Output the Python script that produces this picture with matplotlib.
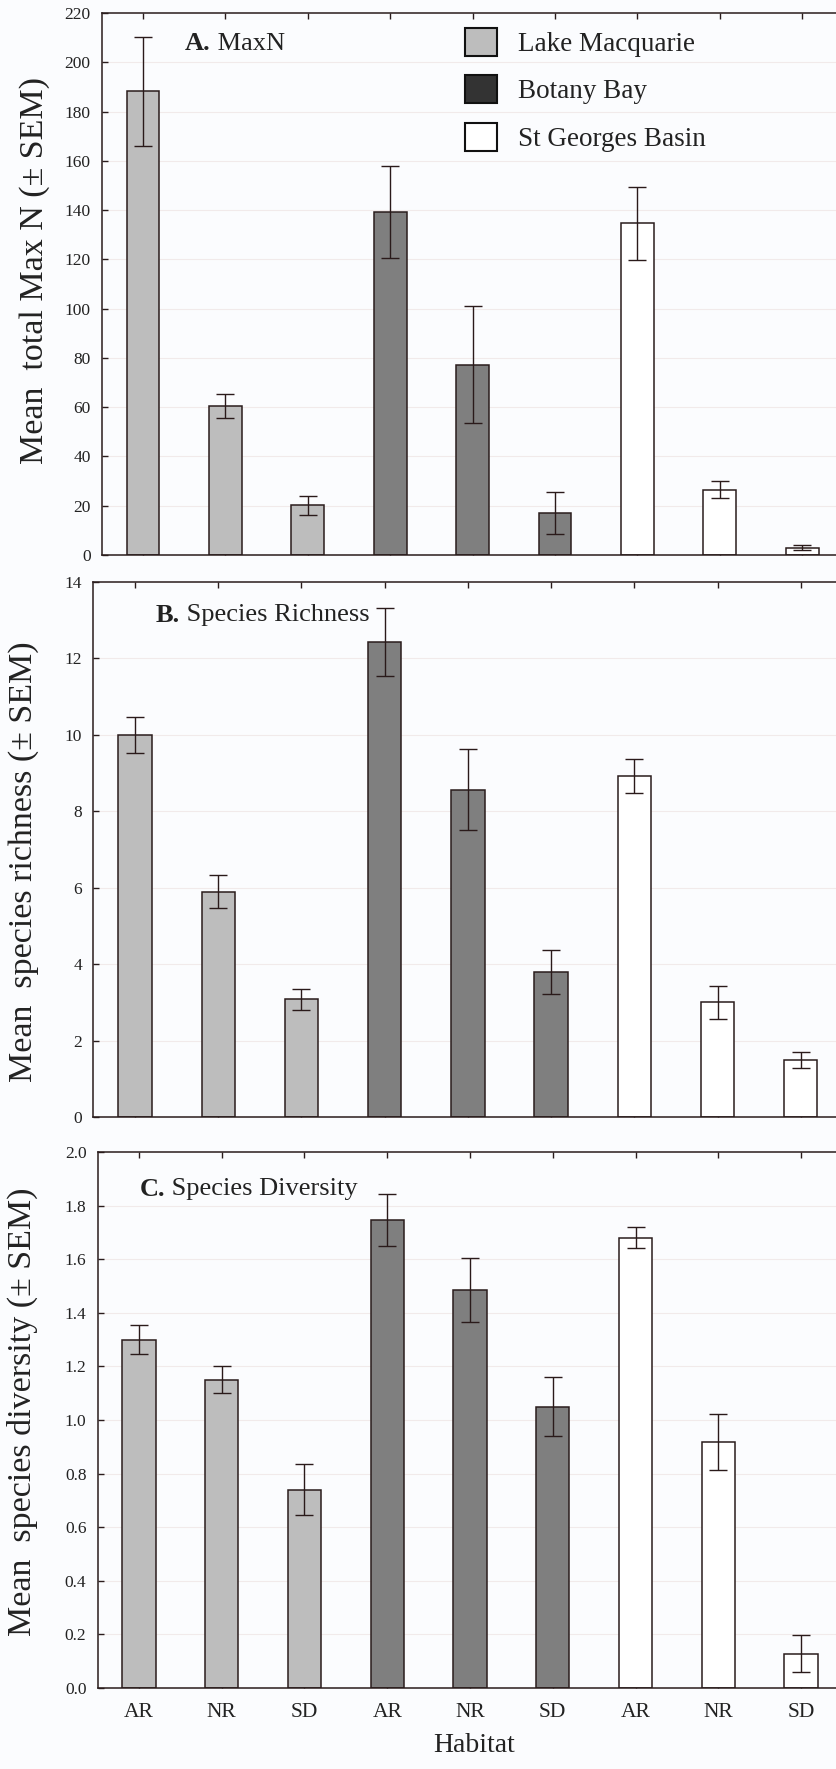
import matplotlib
matplotlib.use('Agg')
import matplotlib.pyplot as plt
from matplotlib.patches import Patch
import numpy as np

# habitat x estuary layout: 3 estuaries x 3 habitats
estuaries = ['Lake Macquarie', 'Botany Bay', 'St Georges Basin']
habitats = ['AR', 'NR', 'SD']

# A. MaxN (mean, SEM) per bar, in order LM AR/NR/SD, BB AR/NR/SD, SG AR/NR/SD
maxn_mean = [188.2, 60.5, 20.2, 139.2, 77.3, 17.0, 134.6, 26.5, 3.0]
maxn_sem = [22.2, 4.7, 3.8, 18.8, 23.7, 8.5, 14.7, 3.4, 0.9]

# B. Species richness
rich_mean = [10.0, 5.9, 3.08, 12.43, 8.57, 3.8, 8.92, 3.0, 1.5]
rich_sem = [0.48, 0.42, 0.28, 0.89, 1.05, 0.58, 0.44, 0.44, 0.21]

# C. Species diversity
div_mean = [1.30, 1.15, 0.74, 1.745, 1.485, 1.05, 1.68, 0.918, 0.128]
div_sem = [0.053, 0.05, 0.095, 0.097, 0.12, 0.11, 0.04, 0.104, 0.07]

bar_colors = ['#bdbdbd'] * 3 + ['#7f7f7f'] * 3 + ['white'] * 3
legend_colors = ['#bdbdbd', '#333333', 'white']
edge = '#2a1c1c'
bg = '#fbfcfe'

plt.rcParams['font.family'] = ['Liberation Serif', 'DejaVu Serif']

W, H = 837, 1769
fig = plt.figure(figsize=(W / 100, H / 100), dpi=100, facecolor=bg)


def px_axes(left, top, bottom, width):
    return fig.add_axes([left / W, 1 - bottom / H, width / W, (bottom - top) / H])


def draw_panel(ax, means, sems, ymax, yticks, fmt, title_bold, title_rest, title_xy):
    x = np.arange(len(means))
    ax.set_facecolor(bg)
    for yt in yticks[1:-1]:
        ax.axhline(yt, color='#f1eaea', lw=0.8, zorder=0)
    ax.bar(x, means, width=0.4, color=bar_colors, edgecolor=edge, linewidth=1.1, zorder=2)
    ax.errorbar(x, means, yerr=sems, fmt='none', ecolor='#2a1a1a', elinewidth=1.0,
                capsize=6.3, capthick=1.0, zorder=3)
    ax.set_xlim(-0.5, 8.5)
    ax.set_ylim(0, ymax)
    ax.set_yticks(yticks)
    ax.set_yticklabels([fmt.format(v) for v in yticks], fontsize=12.5, color='#222222')
    ax.set_xticks(x)
    ax.tick_params(axis='both', direction='in', length=4, width=1.0, color='#2a1c1c',
                   top=True, right=True)
    ax.tick_params(axis='y', pad=8)
    for sp in ax.spines.values():
        sp.set_color('#2a1c1c')
        sp.set_linewidth(1.1)
    t1 = ax.text(title_xy[0], title_xy[1], title_bold, transform=fig.transFigure,
                 fontsize=19, fontweight='bold', color='#222222', va='center')
    ax.annotate(title_rest, xy=(1, 0), xycoords=t1, fontsize=19, color='#222222',
                va='bottom')


# panel A
axA = px_axes(101.8, 13, 555, 741.6)
draw_panel(axA, maxn_mean, maxn_sem, 220, list(range(0, 221, 20)), '{:d}',
           'A.', ' MaxN', (185 / W, 1 - 43 / H))
axA.set_xticklabels([])

# panel B
axB = px_axes(93.4, 582, 1117, 749)
draw_panel(axB, rich_mean, rich_sem, 14, list(range(0, 15, 2)), '{:d}',
           'B.', ' Species Richness', (156 / W, 1 - 615 / H))
axB.set_xticklabels([])

# panel C
axC = px_axes(97.6, 1152, 1688, 744.8)
draw_panel(axC, div_mean, div_sem, 2.0, [round(v, 1) for v in np.arange(0, 2.01, 0.2)], '{:.1f}',
           'C.', ' Species Diversity', (140 / W, 1 - 1189 / H))
axC.set_xticklabels(habitats * 3, fontsize=15.5, color='#222222')
axC.tick_params(axis='x', pad=11)

# y labels
fig.text(35 / W, 1 - 270 / H, 'Mean  total Max N (\u00b1 SEM)', rotation=90,
         ha='center', va='center', fontsize=24.5, color='#222222')
fig.text(24 / W, 1 - 862 / H, 'Mean  species richness (\u00b1 SEM)', rotation=90,
         ha='center', va='center', fontsize=24.5, color='#222222')
fig.text(22 / W, 1 - 1412 / H, 'Mean  species diversity (\u00b1 SEM)', rotation=90,
         ha='center', va='center', fontsize=24.5, color='#222222')

fig.text(474 / W, 1 - 1745 / H, 'Habitat', ha='center', va='center', fontsize=20,
         color='#222222')

# legend
handles = [Patch(facecolor=c, edgecolor='#111111', linewidth=1.5) for c in legend_colors]
fig.legend(handles, estuaries, loc='upper left', bbox_to_anchor=(465 / W, 1 - 28 / H),
           frameon=False, fontsize=19.5, handlelength=1.2, handleheight=1.2,
           handletextpad=0.75, labelspacing=0.68, borderpad=0, borderaxespad=0,
           labelcolor='#222222')

fig.savefig('out.png', dpi=100, facecolor=bg)
